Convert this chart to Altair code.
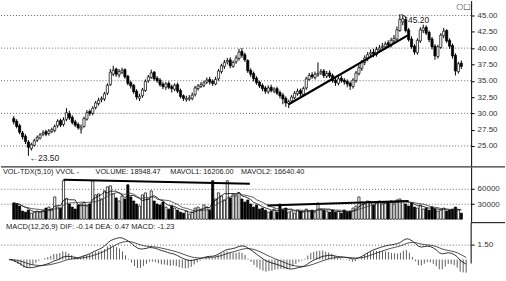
import altair as alt
import pandas as pd

opens = [29.2, 28.8, 28.1, 27.0, 26.5, 25.6, 24.6, 25.1, 25.9, 26.2,
         26.8, 27.2, 26.9, 27.2, 27.4, 28.1, 28.9, 28.3, 29.1, 30.0,
         29.4, 28.7, 28.3, 27.6, 28.0, 29.1, 30.3, 30.0, 30.9, 31.5,
         32.1, 32.2, 33.1, 34.4, 36.0, 36.8, 35.9, 36.3, 36.7, 35.7,
         34.7, 34.3, 33.4, 32.3, 32.7, 33.5, 35.0, 35.5, 36.3, 35.4,
         35.1, 34.5, 34.0, 34.6, 34.1, 33.7, 34.4, 33.5, 32.7, 32.1,
         32.2, 32.3, 32.9, 33.8, 34.1, 34.3, 34.8, 35.2, 34.9, 34.5,
         35.3, 36.4, 37.2, 37.9, 38.2, 37.2, 37.9, 38.4, 39.5, 39.0,
         38.1, 36.6, 36.1, 35.4, 34.8, 34.3, 33.9, 33.3, 34.0, 33.4,
         33.8, 33.2, 32.8, 32.3, 31.5, 31.9, 32.4, 33.0, 33.5, 32.9,
         33.9, 35.2, 35.9, 35.5, 35.9, 36.2, 36.5, 35.7, 36.2, 35.8,
         35.1, 34.6, 35.4, 35.1, 34.9, 34.6, 34.1, 35.0, 36.1, 36.9,
         37.8, 38.4, 39.1, 39.4, 39.0, 39.7, 40.1, 40.2, 40.8, 40.5,
         41.1, 41.4, 42.7, 44.0, 44.4, 42.8, 41.4, 40.3, 39.3, 41.1,
         42.7, 43.2, 42.4, 41.4, 40.3, 38.7, 40.1, 41.9, 42.7, 41.2,
         40.4, 38.9, 36.4, 37.7]
highs = [29.6, 29.1, 28.4, 27.3, 26.8, 25.9, 25.5, 26.1, 26.6, 27.0,
         27.4, 27.5, 27.6, 27.8, 28.3, 29.1, 29.2, 29.4, 30.8, 30.4,
         29.7, 29.0, 28.6, 28.3, 29.5, 30.5, 30.6, 31.1, 31.9, 32.4,
         32.6, 33.3, 34.6, 36.8, 37.3, 37.0, 36.8, 37.0, 36.9, 35.9,
         35.0, 34.5, 33.7, 33.0, 33.9, 35.2, 35.9, 36.7, 36.5, 35.7,
         35.4, 34.8, 34.8, 34.9, 34.4, 34.6, 34.7, 33.8, 32.9, 32.7,
         32.8, 33.2, 34.2, 34.5, 34.8, 35.0, 35.5, 35.6, 35.2, 35.6,
         36.8, 37.6, 38.2, 38.5, 38.6, 38.1, 38.9, 39.9, 40.0, 39.3,
         38.3, 36.9, 36.4, 35.7, 35.0, 34.6, 34.2, 34.3, 34.4, 34.0,
         34.1, 33.5, 33.1, 32.6, 32.1, 32.8, 33.4, 33.8, 33.8, 34.1,
         35.6, 36.2, 36.3, 36.4, 37.8, 36.8, 36.8, 36.5, 36.6, 36.1,
         35.4, 35.7, 35.8, 35.4, 35.2, 34.9, 35.4, 36.5, 37.4, 38.2,
         38.9, 39.4, 39.8, 39.9, 40.2, 40.5, 40.8, 41.0, 41.2, 41.6,
         42.0, 43.3, 45.2, 45.0, 44.8, 43.1, 41.8, 40.6, 41.5, 43.2,
         43.6, 43.5, 42.7, 41.7, 40.6, 40.5, 42.3, 43.1, 42.9, 41.5,
         40.7, 39.2, 37.9, 38.1]
lows = [28.3, 27.7, 26.8, 26.0, 25.3, 23.5, 24.3, 24.9, 25.6, 26.0,
        26.5, 26.5, 26.6, 27.0, 27.1, 27.8, 27.9, 28.0, 28.8, 29.0,
        28.3, 27.9, 27.5, 26.9, 27.8, 28.9, 29.6, 29.7, 30.6, 31.2,
        31.7, 31.9, 32.8, 34.2, 35.7, 35.6, 35.5, 36.0, 35.3, 34.3,
        33.8, 33.0, 32.1, 31.9, 32.4, 33.3, 34.7, 35.3, 35.0, 34.7,
        34.1, 33.7, 33.6, 33.7, 33.2, 33.4, 33.1, 32.3, 31.9, 31.8,
        31.9, 32.0, 32.6, 33.5, 33.9, 34.0, 34.5, 34.4, 34.2, 34.3,
        35.0, 36.1, 36.8, 37.5, 36.9, 37.0, 37.6, 38.1, 38.5, 37.9,
        36.2, 35.6, 34.9, 34.4, 33.9, 33.4, 33.0, 33.0, 33.2, 33.1,
        32.8, 32.3, 31.4, 31.0, 30.8, 31.6, 32.2, 32.7, 32.6, 32.7,
        33.6, 35.0, 35.3, 35.2, 35.6, 35.9, 35.4, 35.4, 35.4, 34.7,
        34.2, 34.3, 34.7, 34.4, 34.0, 33.6, 33.8, 34.7, 35.8, 36.5,
        37.4, 38.0, 38.5, 38.6, 38.7, 39.3, 39.6, 39.8, 40.0, 40.1,
        40.7, 41.1, 42.5, 43.5, 42.4, 41.0, 39.9, 39.0, 39.0, 40.8,
        42.3, 42.0, 40.9, 39.8, 38.2, 38.4, 39.9, 41.5, 40.8, 39.9,
        38.4, 35.8, 36.1, 36.8]
closes = [28.7, 28.0, 27.1, 26.4, 25.7, 24.8, 25.2, 25.8, 26.3, 26.7,
          27.0, 26.8, 27.3, 27.5, 28.0, 28.8, 28.2, 29.0, 30.1, 29.3,
          28.6, 28.2, 27.8, 27.9, 29.2, 30.1, 30.0, 30.8, 31.6, 32.0,
          32.3, 33.0, 34.3, 36.3, 36.6, 36.0, 36.4, 36.6, 35.6, 34.6,
          34.2, 33.3, 32.5, 32.6, 33.6, 34.9, 35.6, 36.2, 35.3, 35.0,
          34.4, 34.1, 34.5, 34.0, 33.8, 34.3, 33.4, 32.6, 32.3, 32.3,
          32.4, 32.8, 33.9, 34.2, 34.4, 34.7, 35.1, 34.8, 34.6, 35.2,
          36.5, 37.3, 37.8, 38.1, 37.3, 37.8, 38.5, 39.4, 38.9, 38.2,
          36.5, 36.0, 35.3, 34.7, 34.2, 33.8, 33.4, 33.9, 33.5, 33.7,
          33.1, 32.7, 32.2, 31.6, 31.8, 32.5, 33.1, 33.4, 33.0, 33.8,
          35.3, 35.8, 35.6, 36.0, 36.1, 36.4, 35.8, 36.1, 35.7, 35.0,
          34.7, 35.3, 35.0, 34.8, 34.5, 34.2, 35.1, 36.2, 37.0, 37.9,
          38.5, 39.0, 39.3, 39.1, 39.8, 40.0, 40.3, 40.6, 40.5, 41.2,
          41.5, 42.8, 44.4, 44.5, 42.7, 41.3, 40.2, 39.4, 41.2, 42.8,
          43.1, 42.3, 41.3, 40.2, 38.8, 40.2, 42.0, 42.6, 41.1, 40.3,
          38.8, 36.5, 37.6, 37.2]
volumes = [32000, 30000, 26000, 16000, 14000, 18000, 12000, 14000, 16000, 14000,
           18000, 22000, 24000, 20000, 44000, 24000, 22000, 76000, 40000, 30000,
           24000, 20000, 28000, 30000, 34000, 26000, 30000, 76000, 48000, 50000,
           40000, 56000, 64000, 66000, 50000, 42000, 36000, 46000, 40000, 68000,
           44000, 36000, 30000, 26000, 48000, 52000, 40000, 56000, 36000, 30000,
           28000, 34000, 24000, 20000, 26000, 22000, 18000, 14000, 12000, 16000,
           10000, 14000, 22000, 24000, 20000, 28000, 24000, 18000, 76000, 40000,
           52000, 46000, 38000, 76000, 42000, 50000, 46000, 52000, 40000, 34000,
           38000, 30000, 24000, 28000, 20000, 22000, 18000, 14000, 16000, 20000,
           14000, 30000, 18000, 22000, 14000, 16000, 12000, 18000, 16000, 14000,
           20000, 16000, 18000, 14000, 32000, 20000, 18000, 16000, 14000, 18000,
           14000, 16000, 12000, 18000, 14000, 16000, 22000, 26000, 44000, 34000,
           30000, 36000, 32000, 28000, 34000, 36000, 30000, 32000, 34000, 36000,
           30000, 38000, 40000, 36000, 30000, 26000, 32000, 24000, 22000, 28000,
           20000, 22000, 18000, 24000, 20000, 16000, 18000, 22000, 16000, 18000,
           20000, 24000, 18000, 12000]

price_ticks = [25.0, 27.5, 30.0, 32.5, 35.0, 37.5, 40.0, 42.5, 45.0]
price_grid = [25.0, 30.0, 35.0, 40.0, 45.0]
vol_ticks = [30000, 60000]
macd_ticks = [1.5]

trend_idx = [94, 134.7]
trend_price = [31.4, 41.95]
vline1_idx = [17, 80.7]
vline1_vol = [78000, 70000]
vline2_idx = [86.7, 135]
vline2_vol = [27000, 36000]

peak_idx = [132.5, 134.6]
peak_price = [45.2, 44.6]
labels_idx = [134.8, 5.4]
labels_price = [44.25, 23.15]
labels_text = ["45.20", "\u219023.50"]

vol_header = ["VOL-TDX(5,10) VVOL -", "VOLUME: 18948.47", "MAVOL1: 16206.00", "MAVOL2: 16640.40"]
vol_header_x = [2, 95, 170, 241]
macd_header = "MACD(12,26,9) DIF: -0.14 DEA: 0.47 MACD: -1.23"

FONT = "Liberation Sans"
W = 472

df = pd.DataFrame({"i": list(range(len(closes))), "open": opens, "high": highs,
                   "low": lows, "close": closes, "vol": volumes})
c = df["close"]
dif = c.ewm(span=12, adjust=False).mean() - c.ewm(span=26, adjust=False).mean()
dea = dif.ewm(span=9, adjust=False).mean()
df["dif"] = dif
df["dea"] = dea
df["hist"] = 2 * (dif - dea)

xs = alt.Scale(domain=[-2.667, 154.667], nice=False, zero=False)
X = alt.X("i:Q", scale=xs, axis=None)
updown = alt.condition("datum.close >= datum.open", alt.value("white"), alt.value("black"))


def right_axis(values, fmt, grid, domain=True):
    return alt.Axis(orient="right", values=values, format=fmt, title=None,
                    labelFont=FONT, labelFontSize=8, labelColor="#333",
                    tickSize=3, tickColor="black", domain=domain, domainColor="black",
                    labelPadding=3, grid=grid, gridDash=[1, 2], gridColor="#666")


# ---- price panel
py = alt.Scale(domain=[21.947, 47.29], nice=False, zero=False)
pax = right_axis(price_ticks, ".2f", False)


def PY(f):
    return alt.Y(f, scale=py, axis=pax)


base = alt.Chart(df)
grid = alt.Chart(pd.DataFrame({"g": price_grid})).mark_rule(
    color="#666", strokeWidth=1, strokeDash=[1, 2]).encode(y=PY("g:Q"))
wick = base.mark_rule(color="black", strokeWidth=1).encode(x=X, y=PY("low:Q"), y2="high:Q")
body = base.mark_bar(size=2.2, stroke="black", strokeWidth=0.7).encode(
    x=X, y=PY("open:Q"), y2="close:Q", fill=updown)
trend = alt.Chart(pd.DataFrame({"i": trend_idx, "p": trend_price})).mark_line(
    color="black", strokeWidth=2.2).encode(x=X, y=PY("p:Q"))
hook = alt.Chart(pd.DataFrame({"i": peak_idx, "p": peak_price})).mark_line(
    color="black", strokeWidth=0.8).encode(x=X, y=PY("p:Q"))
ann = alt.Chart(pd.DataFrame({"i": labels_idx, "p": labels_price, "t": labels_text})).mark_text(
    font=FONT, fontSize=8.5, align="left", baseline="middle", color="#222").encode(
    x=X, y=PY("p:Q"), text="t:N")
icons = alt.Chart(pd.DataFrame({"t": ["\u25cb\u25a1"]})).mark_text(
    font="DejaVu Sans", fontSize=8, align="left", baseline="middle", color="#333").encode(
    x=alt.value(457), y=alt.value(6), text="t:N")
price = alt.layer(grid, wick, body, trend, hook, ann, icons).properties(width=W, height=166)

# ---- volume panel
vy = alt.Scale(domain=[-4900, 103300], nice=False, zero=False)
vax = right_axis(vol_ticks, "d", True)


def VY(f):
    return alt.Y(f, scale=vy, axis=vax)


vbar = base.mark_bar(size=2.2, stroke="black", strokeWidth=0.7).encode(
    x=X, y=VY("vol:Q"), fill=updown)
ma5 = base.transform_window(ma="mean(vol)", frame=[-4, 0], sort=[alt.SortField("i")]).mark_line(
    color="black", strokeWidth=0.8).encode(x=X, y=VY("ma:Q"))
ma10 = base.transform_window(ma="mean(vol)", frame=[-9, 0], sort=[alt.SortField("i")]).mark_line(
    color="#333", strokeWidth=0.8).encode(x=X, y=VY("ma:Q"))
vl1 = alt.Chart(pd.DataFrame({"i": vline1_idx, "v": vline1_vol})).mark_line(
    color="black", strokeWidth=2).encode(x=X, y=VY("v:Q"))
vl2 = alt.Chart(pd.DataFrame({"i": vline2_idx, "v": vline2_vol})).mark_line(
    color="black", strokeWidth=2).encode(x=X, y=VY("v:Q"))
one = pd.DataFrame({"a": [0]})
sep_top = alt.Chart(one).mark_rule(color="black", strokeWidth=1).encode(
    x=alt.value(0), x2=alt.value(506), y=alt.value(0))
vhead = alt.Chart(pd.DataFrame({"t": vol_header, "x": vol_header_x})).mark_text(
    font=FONT, fontSize=7.3, align="left", baseline="middle", color="#222").encode(
    x=alt.X("x:Q", scale=None), y=alt.value(5.5), text="t:N")
volume = alt.layer(vbar, ma5, ma10, vl1, vl2, sep_top, vhead).properties(width=W, height=55)

# ---- MACD panel
my = alt.Scale(domain=[-2.3, 3.7], nice=False, zero=False)
max_ = right_axis(macd_ticks, ".2f", True, domain=False)


def MY(f):
    return alt.Y(f, scale=my, axis=max_)


hist = base.mark_rule(color="#333", strokeWidth=0.8).encode(
    x=X, y=MY("hist:Q"), y2=alt.datum(0))
difl = base.mark_line(color="black", strokeWidth=0.8, clip=True).encode(x=X, y=MY("dif:Q"))
deal = base.mark_line(color="#222", strokeWidth=0.8, clip=True).encode(x=X, y=MY("dea:Q"))
sep_r = alt.Chart(one).mark_rule(color="black", strokeWidth=1).encode(
    x=alt.value(W), x2=alt.value(506), y=alt.value(0))
axis_line = alt.Chart(one).mark_rule(color="black", strokeWidth=1).encode(
    x=alt.value(W), y=alt.value(0), y2=alt.value(41))
mhead = alt.Chart(pd.DataFrame({"t": [macd_header]})).mark_text(
    font=FONT, fontSize=7.5, align="left", baseline="middle", color="#222").encode(
    x=alt.value(5), y=alt.value(4.5), text="t:N")
macd = alt.layer(hist, difl, deal, sep_r, axis_line, mhead).properties(width=W, height=60)

chart = alt.vconcat(price, volume, macd, spacing=0).properties(
    padding={"left": 0, "top": 0, "right": 0, "bottom": 0}
).configure_view(stroke=None)

chart.save("out.html", embed_options={"renderer": "svg", "actions": False})
